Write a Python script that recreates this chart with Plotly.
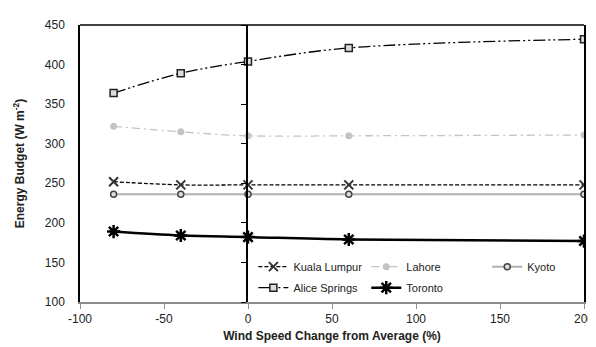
import plotly.graph_objects as go

wind_change = [-80, -40, 0, 60, 200]
kuala_lumpur = [252, 248, 248, 248, 248]
lahore = [322, 315, 310, 310, 311]
kyoto = [236, 236, 236, 236, 236]
alice_springs = [364, 389, 404, 421, 432]
toronto = [189, 184, 182, 179, 177]

x_ticks = [-100, -50, 0, 50, 100, 150, 200]
x_tick_labels = ["-100", "-50", "0", "50", "100", "150", "200"]
y_ticks = [100, 150, 200, 250, 300, 350, 400, 450]

FONT = "Liberation Sans, Arial, sans-serif"

fig = go.Figure()

fig.add_trace(go.Scatter(
    x=wind_change, y=kuala_lumpur, name="Kuala Lumpur", mode="lines+markers",
    line=dict(color="black", width=1.3, dash="4px,2px", shape="spline"),
    marker=dict(symbol="x-thin", size=9, line=dict(color="#333333", width=2)),
    legend="legend", legendgroup="kl"))
fig.add_trace(go.Scatter(
    x=wind_change, y=lahore, name="Lahore", mode="lines+markers",
    line=dict(color="#c4c4c4", width=1.3, dash="8px,4px,2px,4px", shape="spline"),
    marker=dict(symbol="circle", size=7, color="#c4c4c4"),
    legend="legend2", legendgroup="la"))
fig.add_trace(go.Scatter(
    x=wind_change, y=kyoto, name="Kyoto", mode="lines+markers",
    line=dict(color="#b0b0b0", width=2, shape="spline"),
    marker=dict(symbol="circle", size=6, color="#dddddd", line=dict(color="#444444", width=1.5)),
    legend="legend3", legendgroup="ky"))
fig.add_trace(go.Scatter(
    x=wind_change, y=alice_springs, name="Alice Springs", mode="lines+markers",
    line=dict(color="black", width=1.3, dash="12px,3px,2px,3px,2px,3px", shape="spline"),
    marker=dict(symbol="square", size=7, color="#dddddd", line=dict(color="#222222", width=1.5)),
    legend="legend", legendgroup="as"))
fig.add_trace(go.Scatter(
    x=wind_change, y=toronto, name="Toronto", mode="lines+markers",
    line=dict(color="black", width=2.5, shape="spline"),
    marker=dict(symbol="asterisk", size=11, line=dict(color="black", width=2.5)),
    legend="legend2", legendgroup="to"))
# invisible trace carrying the crossing y-axis drawn at x = 0
fig.add_trace(go.Scatter(x=[0.5], y=[300], xaxis="x2", yaxis="y2", showlegend=False,
                         hoverinfo="skip", mode="markers", marker=dict(opacity=0)))

leg_common = dict(orientation="v", yanchor="top", y=0.18, xanchor="left",
                  bgcolor="rgba(0,0,0,0)", tracegroupgap=2, traceorder="grouped",
                  font=dict(size=11, color="#222222"), itemwidth=30)

fig.update_layout(
    width=596, height=347,
    margin=dict(l=72, r=10, t=12, b=53),
    paper_bgcolor="white", plot_bgcolor="rgba(0,0,0,0)",
    font=dict(family=FONT, size=12, color="#222222"),
    xaxis=dict(
        range=[-100, 200], tickvals=x_ticks, ticktext=x_tick_labels,
        showgrid=False, zeroline=False,
        showline=True, linecolor="#8c8c8c", linewidth=1.5,
        ticks="outside", ticklen=5, tickcolor="#8c8c8c",
        tickfont=dict(size=12, color="#222222"),
        title=dict(text="<b>Wind Speed Change from Average (%)</b>", font=dict(size=12), standoff=6),
    ),
    yaxis=dict(
        range=[100, 450], tickvals=y_ticks, showgrid=False, zeroline=False,
        showline=True, linecolor="black", linewidth=1.5, mirror=True,
        ticks="outside", ticklen=11, tickcolor="rgba(0,0,0,0)",
        tickfont=dict(size=12, color="#222222"),
        title=dict(text="<b>Energy Budget (W m<sup>-2</sup>)</b>", font=dict(size=12), standoff=18),
    ),
    xaxis2=dict(domain=[1/3, 1], anchor="y2", range=[0, 1], visible=False),
    yaxis2=dict(
        domain=[0, 1], anchor="x2", side="left",
        range=[100, 450], tickvals=y_ticks, showticklabels=False, showgrid=False, zeroline=False,
        showline=True, linecolor="black", linewidth=1.5,
        ticks="outside", ticklen=5, tickcolor="black", tickwidth=1.2,
    ),
    legend=dict(x=0.344, **leg_common),
    legend2=dict(x=0.568, **leg_common),
    legend3=dict(x=0.808, **leg_common),
    shapes=[dict(type="line", xref="paper", yref="paper", x0=0, x1=1, y0=1, y1=1,
                 line=dict(color="black", width=1.5))],
    showlegend=True,
)

fig.write_html("out.html")
